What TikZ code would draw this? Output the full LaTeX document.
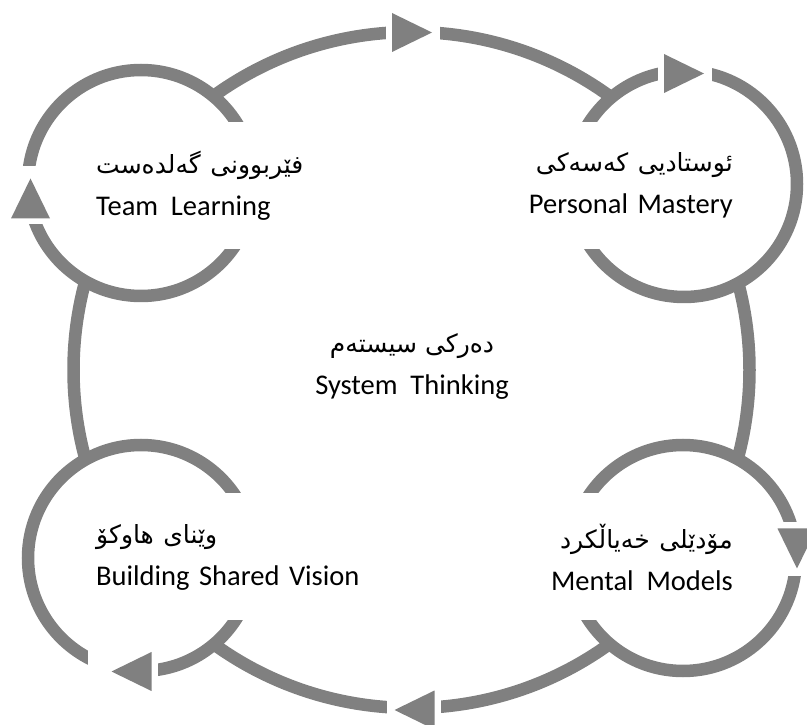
\documentclass[tikz,border=0pt]{standalone}
\usepackage{fontspec}
\setmainfont{Carlito}
\newfontfamily\kurdish[Script=Arabic]{DejaVu Sans}
\TeXXeTstate=1
\definecolor{ringgray}{HTML}{808080}
\newcommand{\ku}[1]{{\kurdish\fontsize{25}{30}\selectfont\beginR #1\endR}}
\newcommand{\gap}{\hspace{0.45em}}

\tikzset{
  tip gap/.store in=\tipgap, tip gap=8,
  flowtip/.pic={
    \fill[white] (-26,-24) rectangle (20+\tipgap,24);
    \fill[ringgray] (-20,-19.5) -- (20,0) -- (-20,19.5) -- cycle;
  }
}

\begin{document}
\begin{tikzpicture}[x=1pt, y=1pt,
  ring/.style={draw=ringgray, line width=12.5pt},
  disc/.style={ring, fill=white},
  lbl/.style={fill=white, inner xsep=8pt, inner ysep=0pt, minimum height=127pt,
    font=\fontsize{28.5}{42}\selectfont},
  plain/.style={align=center, font=\fontsize{28.5}{42}\selectfont}
]
  \clip (0,0) rectangle (807,724);
  % ring centres
  \coordinate (hub) at (411.5,354);
  \coordinate (tl) at (141,541);
  \coordinate (tr) at (684,540);
  \coordinate (bl) at (141,166);
  \coordinate (br) at (683,166);

  \draw[ring] (hub) circle[radius=338];
  \foreach \c in {tl,tr,bl,br}
    \draw[disc] (\c) circle[radius=113];

  % arrow heads, each with a gap in the ring
  \pic at (412,691.5) {flowtip};
  \pic at (684,650.5) {flowtip};
  \pic[rotate=-90] at (797,175.5) {flowtip};
  \pic[rotate=180] at (414.5,14) {flowtip};
  \pic[rotate=180, tip gap=24] at (131.5,52.5) {flowtip};
  \pic[rotate=90, tip gap=12] at (30.5,525.5) {flowtip};

  % labels
  \node[lbl, anchor=west, text width=230pt, align=left] (team) at (88,538.5)
    {\ku{فێربوونی گەلدەست}\\Team\gap Learning};
  \node[lbl, anchor=east, text width=214pt, align=right] (mastery) at (741,538.5)
    {\ku{ئوستادیی کەسەکی}\\Personal Mastery};
  \node[lbl, anchor=west, text width=270pt, align=left] (vision) at (88,167)
    {\ku{وێنای هاوکۆ}\\Building Shared Vision};
  \node[lbl, anchor=east, text width=190pt, align=right] (models) at (741,167)
    {\ku{مۆدێلی خەیاڵکرد}\\Mental\gap Models};
  \node[plain] (system) at (412,358) {\ku{دەرکی سیستەم}\\System\gap Thinking};
\end{tikzpicture}
\end{document}
